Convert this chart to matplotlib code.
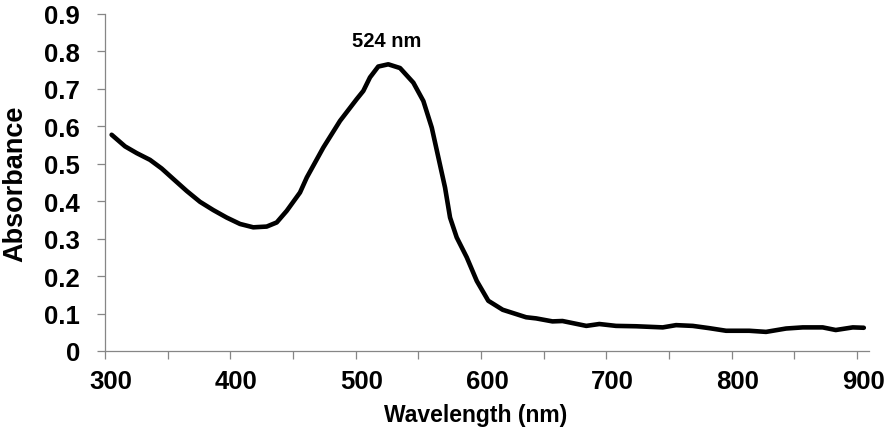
import matplotlib
matplotlib.use("Agg")
import matplotlib.pyplot as plt
import matplotlib.transforms as mtransforms
from matplotlib.ticker import MultipleLocator

wavelength = [305.3, 316, 325.3, 335.9, 345.2, 354.5, 365.2, 375.8, 386.4, 397.1,
              407.7, 418.3, 429, 437, 445, 455.6, 461, 474.2, 487.5, 500.8,
              506.1, 511.4, 518, 526, 535.4, 546, 554, 560.7, 566, 571.3, 575.3,
              580.6, 588.6, 596.6, 605.8, 617.3, 636, 644, 657, 665, 684, 694.4,
              707.7, 723.7, 745, 755.6, 768.9, 782, 795.5, 814, 827.4, 843.4, 856.7,
              872.6, 883, 896.6, 905.4]
absorbance = [0.577, 0.546, 0.528, 0.510, 0.487, 0.459, 0.427, 0.398, 0.376, 0.356,
              0.339, 0.330, 0.332, 0.343, 0.374, 0.423, 0.463, 0.543, 0.614,
              0.672, 0.694, 0.730, 0.759, 0.765, 0.755, 0.716, 0.667, 0.596, 0.516,
              0.436, 0.356, 0.303, 0.250, 0.187, 0.134, 0.110, 0.090, 0.087, 0.079,
              0.080, 0.067, 0.072, 0.067, 0.066, 0.063, 0.069, 0.067, 0.061, 0.054,
              0.054, 0.051, 0.060, 0.063, 0.063, 0.056, 0.063, 0.062]

peak_label = "524 nm"
x_label = "Wavelength (nm)"
y_label = "Absorbance"

plt.rcParams['font.family'] = ['Liberation Sans', 'DejaVu Sans']
plt.rcParams['font.weight'] = 'bold'

W, H = 886, 435
fig = plt.figure(figsize=(W / 100, H / 100), dpi=100)
left, right, top, bottom = 105, 868.7, 14.7, 352
ax = fig.add_axes([left / W, (H - bottom) / H, (right - left) / W, (bottom - top) / H])

ax.plot(wavelength, absorbance, color='black', lw=3.3, solid_capstyle='round',
        solid_joinstyle='round')

ax.set_xlim(300, 909.3)
ax.set_ylim(0, 0.9)
ax.xaxis.set_major_locator(MultipleLocator(100))
ax.xaxis.set_minor_locator(MultipleLocator(50))
ax.yaxis.set_major_locator(MultipleLocator(0.1))
ax.set_yticks(ax.get_yticks())
ax.set_yticklabels([f"{v:g}" for v in ax.get_yticks()])
ax.set_ylim(0, 0.9)

gray = '#868686'
for s in ['top', 'right']:
    ax.spines[s].set_visible(False)
for s in ['left', 'bottom']:
    ax.spines[s].set_color(gray)
    ax.spines[s].set_linewidth(0.9)

ax.tick_params(axis='both', which='both', direction='out', length=6, width=0.9,
               color=gray, labelsize=18.5)
ax.tick_params(axis='x', which='both', pad=7)
ax.tick_params(axis='y', which='major', pad=12)
shift = mtransforms.ScaledTranslation(6 / 100, 0, fig.dpi_scale_trans)
for lab in ax.get_xticklabels():
    lab.set_fontweight('bold')
    lab.set_transform(lab.get_transform() + shift)
for lab in ax.get_yticklabels():
    lab.set_fontweight('bold')

ax.set_xlabel(x_label, fontsize=16.5, fontweight='bold')
ax.set_ylabel(y_label, fontsize=19.5, fontweight='bold', va='center')
ax.xaxis.set_label_coords((475.5 - left) / (right - left), -0.155)
ax.yaxis.set_label_coords((15 - left) / (right - left), 0.5)

ax.annotate(peak_label, xy=(525, 0.768), xytext=(386.7 - left, bottom - 41.7),
            textcoords='axes pixels', ha='center', va='center', fontsize=14.5,
            fontweight='bold')

fig.savefig("out.png", dpi=100)
